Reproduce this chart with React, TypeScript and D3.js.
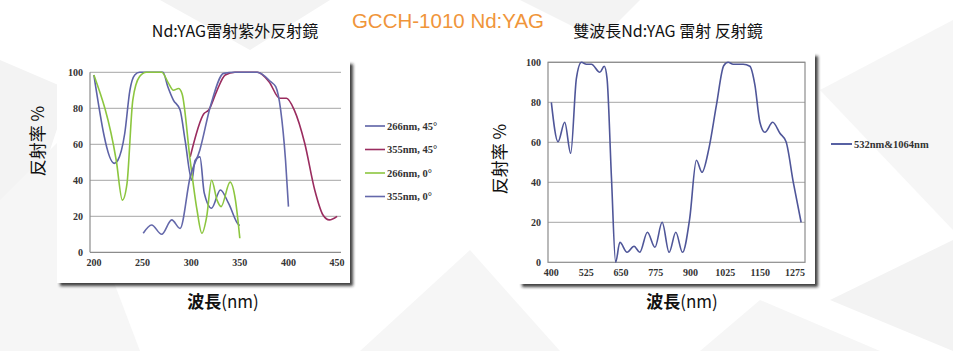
import React from "react";
import * as d3 from "d3";

type Pt = [number, number];

// left chart: Nd:YAG UV mirror
const leftTicksX = [200, 250, 300, 350, 400, 450];
const yTicks = [0, 20, 40, 60, 80, 100];

const s266_45: Pt[] = [
    [200, 98.5], [221, 49.4], [224.5, 51], [231.7, 66], [237, 90], [242, 98.5], [247, 100],
    [271, 100], [276, 92], [281.7, 84.6], [288.6, 79], [293.8, 62], [300.7, 40], [304, 51],
    [309, 53], [313.4, 33], [321, 24.5], [330, 34.6], [338.6, 27], [349, 15.2], [350, 15]
];
const s355_45: Pt[] = [
    [299, 53], [313, 77], [318, 79], [326.6, 90], [335, 98.5], [345, 100], [368, 100],
    [380, 94.8], [391, 85.6], [398, 85.6], [406, 79], [416.7, 60.6], [427, 34.6],
    [435.5, 20.7], [442, 18], [450, 20]
];
const s266_0: Pt[] = [
    [200, 98.5], [223, 51], [229.3, 29], [234, 38], [240, 84.6], [247, 97.6], [254, 100],
    [269.7, 100], [276.6, 94], [281.7, 90], [287, 91], [290.7, 88], [299, 51], [306, 23.5],
    [311, 10.6], [316, 20], [321, 40], [326.6, 29], [330.7, 25.4], [340, 39], [345.5, 29], [350, 7.8]
];
const s355_0: Pt[] = [
    [250.7, 10.6], [259.3, 15.2], [269.7, 10], [280, 18], [288.6, 13.3], [299, 42], [309, 57],
    [319.7, 81], [333.4, 99.4], [345, 100], [368, 100], [381.7, 94.8], [386.9, 92], [392, 79],
    [397, 51], [400, 25.4]
];

const leftSeries = [
    { name: "266nm, 45°", color: "#5d62a6", data: s266_45 },
    { name: "355nm, 45°", color: "#9a2c5f", data: s355_45 },
    { name: "266nm, 0°", color: "#8cc63f", data: s266_0 },
    { name: "355nm, 0°", color: "#6468aa", data: s355_0 },
];

// right chart: dual wavelength mirror
const rightTicksX = [400, 525, 650, 775, 900, 1025, 1150, 1275];
const s532_1064: Pt[] = [
    [400, 80], [424, 60.3], [448, 70], [469.5, 54.5], [490, 92], [508, 100], [526, 99], [544, 99],
    [574, 95], [590, 98], [600, 92], [616, 42], [631, 0], [646, 10], [672, 5], [697, 8], [717.6, 5],
    [745, 15], [772, 7.5], [798, 20], [823, 5], [847, 15], [871, 5], [897, 22], [921, 51], [941, 45],
    [966, 57], [993, 78.7], [1019, 98.3], [1035, 100], [1053, 99], [1089, 99], [1113, 98],
    [1131, 88.7], [1149, 70], [1167, 65], [1195, 70], [1221, 64.5], [1243, 60.3], [1269, 40], [1297, 20]
];

const tickFont = "'Liberation Serif', 'DejaVu Serif', serif";
const cjkFont = "'Noto Sans CJK TC', 'Noto Sans', sans-serif";

// faint low-poly backdrop
const bgPolys = [
    "0,60 70,90 0,300",
    "0,200 60,140 140,351 0,351",
    "160,0 330,0 250,50",
    "360,351 470,250 560,351",
    "520,0 640,0 600,40",
    "820,90 953,20 953,230",
    "830,300 953,240 953,351",
    "700,351 760,300 880,351",
];

function Chart({ x0, x1, y0, y1, domain, ticks, series, boxed }: {
    x0: number; x1: number; y0: number; y1: number;
    domain: [number, number]; ticks: number[];
    series: { name: string; color: string; data: Pt[] }[];
    boxed: boolean;
}) {
    const x = d3.scaleLinear().domain(domain).range([x0, x1]);
    const y = d3.scaleLinear().domain([0, 100]).range([y0, y1]);
    const line = d3.line<Pt>().x(d => x(d[0])).y(d => y(d[1])).curve(d3.curveMonotoneX);
    return (
        <g>
            {yTicks.map(t => (
                <g key={t}>
                    {t > 0 && <line x1={x0} x2={x1} y1={y(t)} y2={y(t)} stroke="#a6a6a6" strokeWidth={1} />}
                    <text x={x0 - 7} y={y(t)} dy="0.35em" textAnchor="end" fontFamily={tickFont}
                        fontWeight="bold" fontSize={10} fill="#333">{t}</text>
                </g>
            ))}
            {ticks.map(t => (
                <text key={t} x={x(t)} y={y0 + 10} dy="0.35em" textAnchor="middle" fontFamily={tickFont}
                    fontWeight="bold" fontSize={10} fill="#333">{t}</text>
            ))}
            {boxed
                ? <rect x={x0} y={y1} width={x1 - x0} height={y0 - y1} fill="none" stroke="#8c8c8c" strokeWidth={1.2} />
                : <>
                    <line x1={x0} x2={x0} y1={y1} y2={y0} stroke="#8c8c8c" strokeWidth={1.2} />
                    <line x1={x0} x2={x1} y1={y0} y2={y0} stroke="#8c8c8c" strokeWidth={1.2} />
                </>}
            {series.map(s => (
                <path key={s.name} d={line(s.data) || ""} fill="none" stroke={s.color} strokeWidth={1.6} />
            ))}
        </g>
    );
}

export default function App() {
    return (
        <svg width={953} height={351} style={{ position: "absolute", left: 0, top: 0, background: "#fff" }}>
            <defs>
                <filter id="shadow" x="-5%" y="-5%" width="115%" height="115%">
                    <feDropShadow dx={3} dy={3} stdDeviation={1.5} floodColor="#222" floodOpacity={0.85} />
                </filter>
            </defs>
            {bgPolys.map((p, i) => <polygon key={i} points={p} fill={i % 2 ? "#f6f6f6" : "#f3f3f3"} />)}

            <rect x={57} y={61} width={293} height={222} fill="#fff" filter="url(#shadow)" />
            <rect x={519} y={53} width={296} height={231} fill="#fff" filter="url(#shadow)" />

            <text x={235} y={31} dy="0.35em" textAnchor="middle" fontFamily={cjkFont} fontSize={16} fill="#111">Nd:YAG雷射紫外反射鏡</text>
            <text x={448} y={21} dy="0.35em" textAnchor="middle" fontFamily="'Liberation Sans', Arial, sans-serif" fontSize={20.5} fill="#f0953a">GCCH-1010 Nd:YAG</text>
            <text x={668} y={31} dy="0.35em" textAnchor="middle" fontFamily={cjkFont} fontSize={16} fill="#111">雙波長Nd:YAG 雷射 反射鏡</text>

            <Chart x0={90} x1={341} y0={252.3} y1={72.3} domain={[196, 454]} ticks={leftTicksX} series={leftSeries} boxed={false} />
            <Chart x0={548} x1={805} y0={262.3} y1={62.3} domain={[388, 1311]} ticks={rightTicksX}
                series={[{ name: "532nm&1064nm", color: "#4f5699", data: s532_1064 }]} boxed={true} />

            {leftSeries.map((s, i) => (
                <g key={s.name} transform={`translate(365,${126 + i * 23.5})`}>
                    <line x1={0} x2={20} y1={0} y2={0} stroke={s.color} strokeWidth={1.6} />
                    <text x={22} y={0} dy="0.35em" fontFamily={tickFont} fontWeight="bold" fontSize={10.5} fill="#333">{s.name}</text>
                </g>
            ))}
            <g transform="translate(831,144)">
                <line x1={0} x2={21} y1={0} y2={0} stroke="#2e3a8c" strokeWidth={1.6} />
                <text x={23} y={0} dy="0.35em" fontFamily={tickFont} fontWeight="bold" fontSize={10.5} fill="#333">532nm&amp;1064nm</text>
            </g>

            <text transform="translate(38,141) rotate(-90)" dy="0.35em" textAnchor="middle" fontFamily={cjkFont} fontSize={17} fill="#111">反射率 %</text>
            <text transform="translate(500,159) rotate(-90)" dy="0.35em" textAnchor="middle" fontFamily={cjkFont} fontSize={17} fill="#111">反射率 %</text>

            <text x={223} y={302} dy="0.35em" textAnchor="middle" fontFamily={cjkFont} fontSize={17} fill="#111">
                <tspan fontWeight="bold">波長</tspan><tspan>(nm)</tspan>
            </text>
            <text x={682} y={302} dy="0.35em" textAnchor="middle" fontFamily={cjkFont} fontSize={17} fill="#111">
                <tspan fontWeight="bold">波長</tspan><tspan>(nm)</tspan>
            </text>
        </svg>
    );
}
